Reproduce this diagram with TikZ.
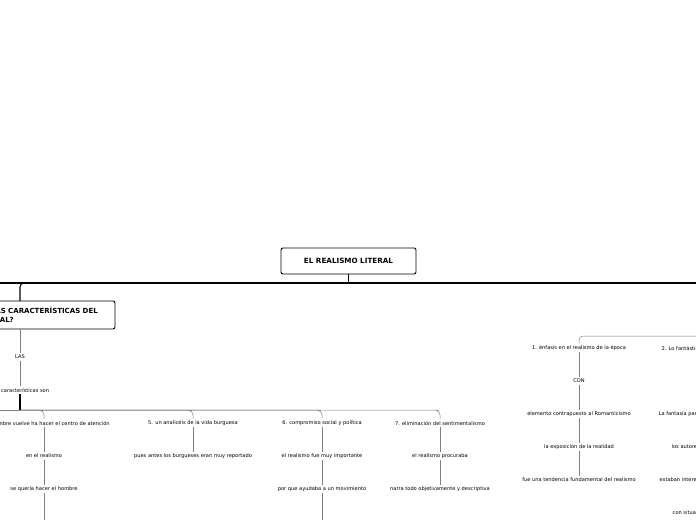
\documentclass[tikz,border=0pt]{standalone}
\usepackage{fontspec}
\setmainfont{DejaVu Sans}
\tikzstyle{topic}=[draw, rounded corners=2pt, line width=0.9pt, fill=white, font=\bfseries\fontsize{7.2}{8}\selectfont, inner sep=0pt]
\tikzstyle{qtext}=[font=\bfseries\fontsize{7}{8}\selectfont, inner sep=0pt]
\tikzstyle{leaf}=[font=\fontsize{5.1}{6}\selectfont, inner sep=1.5pt, fill=white]
\tikzstyle{link}=[draw=gray, line width=0.5pt]
\tikzstyle{trunk}=[draw=black, line width=1.1pt]

\begin{document}
\begin{tikzpicture}[x=1pt, y=-1pt]
	\useasboundingbox (0,0) rectangle (696,520);

	% Root
	\node[topic, minimum width=135, minimum height=26] (root) at (348.5,261) {EL REALISMO LITERAL};
	\coordinate (bus) at (348.5,283);
	\draw[trunk] (root.south) -- (bus);
	\draw[trunk] (-5,283) -- (701,283);

	% Question
	\draw[line width=0.9pt, rounded corners=2pt, fill=white] (-60,301) rectangle (115,329);
	\node[qtext, anchor=east] (quest) at (98,311) {¿CUÁLES SON LAS CARACTERÍSTICAS DEL};
	\node[qtext, anchor=east] (quest2) at (14,319.5) {REALISMO LITERAL?};
	\draw[trunk, rounded corners=4pt] (bus) -- (20,283) -- (20,301);

	\node[leaf] (las) at (20,357) {LAS};
	\node[leaf] (carac) at (20,390) {Las características son};
	\draw[link] (20,329) -- (las) -- (carac);
	\coordinate (split) at (20,410);
	\draw[trunk] (carac) -- (split);
	\draw[link] (-5,410) -- (split);

	% Characteristics
	\foreach \n/\x/\a/\b/\c in {
		4/44/{4. el hombre vuelve ha hacer el centro de atención}/{en el realismo}/{se quería hacer el hombre},
		5/193/{5. un analicéis de la vida burguesa}/{pues antes los burgueses eran muy reportado}/{},
		6/322/{6. compromiso social y política}/{el realismo fue muy importante}/{por que ayudaba a un movimiento},
		7/440/{7. eliminación del sentimentalismo}/{el realismo procuraba}/{narra todo objetivamente y descriptiva}} {
		\node[leaf] (c\n-a) at (\x,423) {\a};
		\node[leaf] (c\n-b) at (\x,456) {\b};
		\draw[link, rounded corners=4pt] (split) -- (\x-5,410) -- (\x,411) -- (c\n-a);
		\draw[link] (c\n-a) -- (c\n-b);
		\ifx\c\empty\else
			\node[leaf] (c\n-c) at (\x,489) {\c};
			\draw[link] (c\n-b) -- (c\n-c);
		\fi
	}
	\coordinate (end4) at (44,520);
	\coordinate (end6) at (322,520);
	\draw[link] (c4-c) -- (end4);
	\draw[link] (c6-c) -- (end6);

	% Right branch
	\coordinate (rbus) at (696,336);
	\node[leaf] (r1) at (579,348) {1. énfasis en el realismo de la época};
	\node[leaf] (r2) at (579,381) {CON};
	\node[leaf] (r3) at (579,414) {elemento contrapuesto al Romanticismo};
	\node[leaf] (r4) at (579,447) {la exposición de la realidad};
	\node[leaf] (r5) at (579,480) {fue una tendencia fundamental del realismo};
	\draw[link, rounded corners=4pt] (rbus) -- (579,336) -- (r1);
	\draw[link] (r1) -- (r2) -- (r3) -- (r4) -- (r5);

	\node[leaf, anchor=west] (f1) at (660,348) {2. Lo fantástico};
	\node[leaf, anchor=west] (f2) at (657,414) {La fantasía para};
	\node[leaf, anchor=west] (f3) at (670,447) {los autores};
	\node[leaf, anchor=west] (f4) at (658,480) {estaban interesados};
	\node[leaf, anchor=west] (f5) at (671,513) {con situaciones};

\end{tikzpicture}
\end{document}
